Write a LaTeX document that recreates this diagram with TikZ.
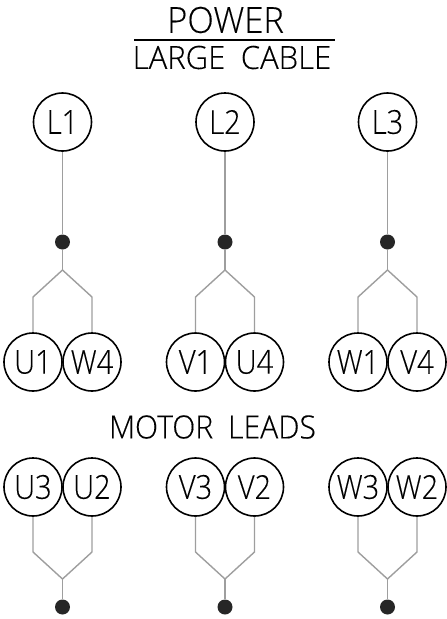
\documentclass[tikz,border=0pt]{standalone}
\usepackage{fontspec}
\newfontfamily\cadfont[FakeBold=0.25]{Open Sans Light}
\newcommand{\leadtext}[1]{\scalebox{0.88}[1]{#1}}
\tikzset{
  lead/.style={circle,draw=black,line width=1.6pt,minimum size=58pt,inner sep=0pt,font=\cadfont\fontsize{33}{33}\selectfont,text=black},
  terminal/.style={circle,fill=black!85,draw=none,minimum size=15pt,inner sep=0pt},
  wire/.style={draw=black!38,line width=1.4pt,line join=miter},
  caption/.style={inner sep=0pt,font=\cadfont\fontsize{32}{32}\selectfont,text=black},
  bigcaption/.style={inner sep=0pt,font=\cadfont\fontsize{36}{36}\selectfont,text=black}
}
\begin{document}
\begin{tikzpicture}[x=1pt,y=-1pt]
\useasboundingbox (0,0) rectangle (447,619);
% titles
\node[bigcaption] (power) at (225.5,20) {\scalebox{0.96}[1]{POWER}};
\coordinate (ruleL) at (134,40);
\coordinate (ruleR) at (335,40);
\draw[line width=1.6pt] (ruleL) -- (ruleR);
\node[caption] (large) at (232,57.5) {\scalebox{0.97}[1]{LARGE\hspace{0.5em}CABLE}};
\node[caption] (motor) at (212.5,427) {\scalebox{0.94}[1]{MOTOR\hspace{0.5em}LEADS}};
% upper groups
\foreach \id/\cx/\top/\a/\b in {1/62.5/L1/U1/W4, 2/225/L2/V1/U4, 3/387.5/L3/W1/V4}{
  \node[lead] (top\id) at (\cx,122) {\leadtext{\top}};
  \node[terminal] (dot\id) at (\cx,242) {};
  \coordinate (j\id) at (\cx,270);
  \node[lead] (a\id) at (\cx-29.5,362) {\leadtext{\a}};
  \node[lead] (b\id) at (\cx+29.5,362) {\leadtext{\b}};
  \coordinate (sa\id) at (\cx-29.5,297);
  \coordinate (sb\id) at (\cx+29.5,297);
  \draw[wire] (top\id) -- (dot\id) -- (j\id);
  \draw[wire] (a\id.north) -- (sa\id) -- (j\id) -- (sb\id) -- (b\id.north);
}
% lower groups
\foreach \id/\cx/\a/\b in {4/62.5/U3/U2, 5/225/V3/V2, 6/387.5/W3/W2}{
  \node[lead] (a\id) at (\cx-29.5,487) {\leadtext{\a}};
  \node[lead] (b\id) at (\cx+29.5,487) {\leadtext{\b}};
  \coordinate (sa\id) at (\cx-29.5,552);
  \coordinate (sb\id) at (\cx+29.5,552);
  \coordinate (j\id) at (\cx,579);
  \node[terminal] (dot\id) at (\cx,607) {};
  \draw[wire] (a\id.south) -- (sa\id) -- (j\id) -- (sb\id) -- (b\id.south);
  \draw[wire] (j\id) -- (dot\id);
}
\end{tikzpicture}
\end{document}
